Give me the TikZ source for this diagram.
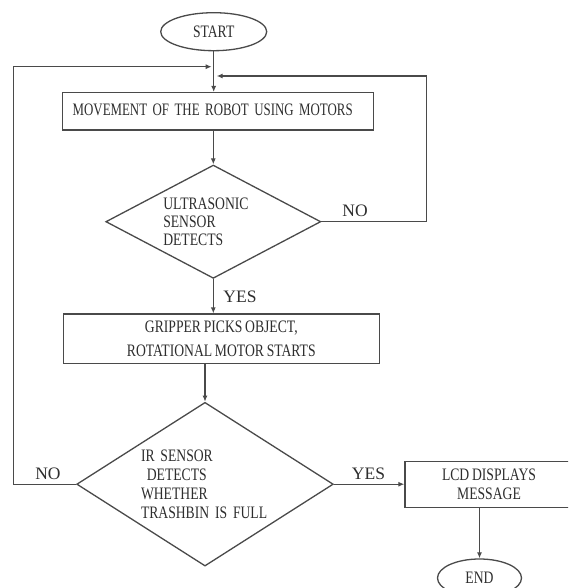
\documentclass[tikz,border=0pt]{standalone}
\usepackage{fontspec}
\usepackage{graphicx}
\setmainfont{Liberation Serif}[FakeStretch=0.78,WordSpace=0.8]
\newfontfamily\lblfont{Liberation Serif}
\usetikzlibrary{shapes.geometric,arrows.meta}
\definecolor{lncol}{HTML}{4A4A4A}
\definecolor{txcol}{HTML}{2E2E2E}
\tikzset{
  every node/.style={text=txcol, font=\fontsize{17.5}{19}\selectfont},
  boxnode/.style={draw=lncol, line width=1.3pt, rectangle, inner sep=0pt},
  termnode/.style={draw=lncol, line width=1.3pt, ellipse, inner sep=0pt},
  decnode/.style={draw=lncol, line width=1.3pt, diamond, inner sep=0pt, align=left},
  lblnode/.style={font=\lblfont\fontsize{17.5}{19}\selectfont, inner sep=0pt},
  conn/.style={draw=lncol, line width=1.3pt},
  arr/.style={conn, -{Latex[length=6pt,width=5pt]}}
}
\begin{document}
\begin{tikzpicture}[x=1pt,y=-1pt]
\useasboundingbox (0,0) rectangle (568,588);
\fill[white] (0,0) rectangle (568,588);
\clip (0,0) rectangle (568,588);

\node[termnode, minimum width=106pt, minimum height=38pt] (start) at (213.7,31.7) {START};

\node[boxnode, minimum width=310.6pt, minimum height=37.3pt, text width=290.6pt, align=left, inner xsep=10pt] (box1) at (218,111.3) {\raisebox{3pt}{\resizebox{280pt}{\height}{MOVEMENT OF THE ROBOT USING MOTORS}}};

\node[decnode, minimum width=215pt, minimum height=113.3pt, aspect=1.9, text width=100pt] (d1) at (213.3,221.7)
  {ULTRASONIC\\[-1pt]SENSOR\\[-1pt]DETECTS};

\node[lblnode] (no1) at (355,210.7) {NO};
\node[lblnode] (yes1) at (240,296.7) {YES};

\node[boxnode, minimum width=316pt, minimum height=49.3pt, align=center] (box2) at (221.3,338.7)
  {GRIPPER PICKS OBJECT,\\[5pt]ROTATIONAL MOTOR STARTS};

\node[decnode, minimum width=256.6pt, minimum height=163.7pt, aspect=1.57, text width=128pt] (d2) at (205,484.2)
  {IR SENSOR\\[0pt]\ DETECTS\\[0pt]WHETHER\\[0pt]TRASHBIN IS FULL};

\node[lblnode] (no2) at (48,474) {NO};
\node[lblnode] (yes2) at (368.5,473.3) {YES};

\node[boxnode, minimum width=168pt, minimum height=46pt, align=center] (box3) at (489,484.7)
  {LCD DISPLAYS\\[0pt]MESSAGE};

\node[termnode, minimum width=84pt, minimum height=38pt] (end) at (479.5,578) {END};

\coordinate (rloop) at (426.7,76);
\coordinate (rtip) at (216.7,76);
\coordinate (lloop) at (13.3,66.7);
\coordinate (ltip) at (211.7,66.7);

\draw[arr] (start.south) -- (start.south |- box1.north);
\draw[arr] (box1.south -| d1.north) -- (d1.north);
\draw[arr] (d1.east) -| (rloop) -- (rtip);
\draw[arr] (d1.south) -- (d1.south |- box2.north);
\draw[arr] (d2.north |- box2.south) -- (d2.north);
\draw[arr] (d2.west) -| (lloop) -- (ltip);
\draw[arr] (d2.east) -- (d2.east -| box3.west);
\draw[arr] (end.north |- box3.south) -- (end.north);
\end{tikzpicture}
\end{document}
